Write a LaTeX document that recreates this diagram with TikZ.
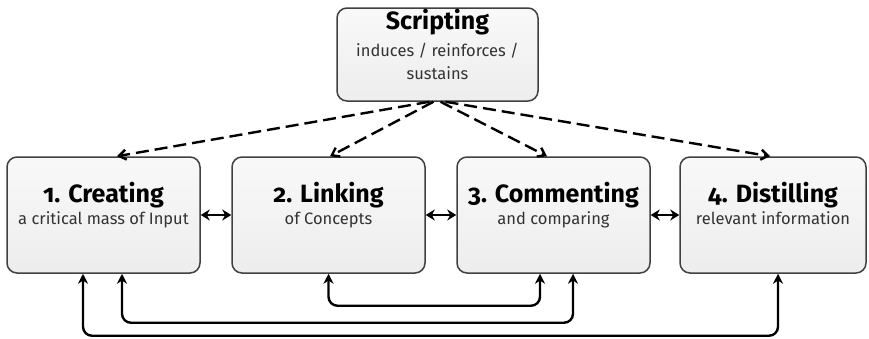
\documentclass[tikz,border=0pt]{standalone}
\usepackage{fontspec}
\setmainfont{Fira Sans}[Numbers=OldStyle]
\usetikzlibrary{arrows.meta}
\definecolor{boxline}{HTML}{404040}
\definecolor{subtext}{HTML}{333333}
\tikzset{
  box/.style={draw=boxline, line width=1.5pt, rounded corners=10pt,
    top color=gray!5, bottom color=gray!14, inner sep=0pt},
  titletext/.style={font=\bfseries\fontsize{25}{28}\selectfont, text=black, inner sep=0pt, anchor=base},
  subtitle/.style={font=\fontsize{16.5}{19}\selectfont, text=subtext, inner sep=0pt, anchor=base, align=center},
  dasharrow/.style={line width=2.4pt, dash pattern=on 13pt off 6pt, -{Straight Barb[length=7pt,width=10pt]}},
  conn/.style={line width=2.4pt, rounded corners=9pt, {Stealth[length=10pt,width=10pt]}-{Stealth[length=10pt,width=10pt]}},
  dbl/.style={line width=2.2pt, {Stealth[length=9pt,width=11pt]}-{Stealth[length=9pt,width=11pt]}},
}
\begin{document}
\begin{tikzpicture}[x=1pt,y=-1pt]
\useasboundingbox (0,0) rectangle (869,338);
% boxes
\node[box, minimum width=201pt, minimum height=93pt] (scr) at (437.5,54.5) {};
\node[box, minimum width=193pt, minimum height=116pt] (b1) at (103.5,215) {};
\node[box, minimum width=193pt, minimum height=116pt] (b2) at (328.5,215) {};
\node[box, minimum width=193pt, minimum height=116pt] (b3) at (553.5,215) {};
\node[box, minimum width=186pt, minimum height=116pt] (b4) at (773,215) {};
% texts
\node[titletext] (scrT) at ([yshift=-22pt]scr.north) {Scripting};
\node[subtitle] (scrS) at ([yshift=-49pt]scr.north) {induces / reinforces /};
\node[subtitle] (scrS2) at ([yshift=-72pt]scr.north) {sustains};
\node[titletext] (t1) at ([yshift=-46pt]b1.north) {1. Creating};
\node[subtitle] (s1) at ([yshift=-68pt]b1.north) {a critical mass of Input};
\node[titletext] (t2) at ([yshift=-46pt]b2.north) {2. Linking};
\node[subtitle] (s2) at ([yshift=-68pt]b2.north) {of Concepts};
\node[titletext] (t3) at ([yshift=-46pt]b3.north) {3. Commenting};
\node[subtitle] (s3) at ([yshift=-68pt]b3.north) {and comparing};
\node[titletext] (t4) at ([yshift=-46pt]b4.north) {4. Distilling};
\node[subtitle] (s4) at ([yshift=-68pt]b4.north) {relevant information};
% dashed arrows
\draw[dasharrow] ([xshift=-8pt]scr.south) -- ([xshift=13.5pt]b1.north);
\draw[dasharrow] ([xshift=-4pt]scr.south) -- ([xshift=1.5pt]b2.north);
\draw[dasharrow] ([xshift=3pt]scr.south) -- ([xshift=-6.5pt]b3.north);
\draw[dasharrow] ([xshift=8pt]scr.south) -- ([xshift=-3pt]b4.north);
% double arrows between boxes
\draw[dbl] (b1.east) -- (b2.west);
\draw[dbl] (b2.east) -- (b3.west);
\draw[dbl] (b3.east) -- (b4.west);
% bottom connectors
\draw[conn] ([xshift=-20.5pt]b1.south) -- ++(0,62) -| ([xshift=5pt]b4.south);
\draw[conn] ([xshift=18.5pt]b1.south) -- ++(0,49) -| ([xshift=19.5pt]b3.south);
\draw[conn] ([xshift=0pt]b2.south) -- ++(0,32) -| ([xshift=-13.5pt]b3.south);
\end{tikzpicture}
\end{document}
